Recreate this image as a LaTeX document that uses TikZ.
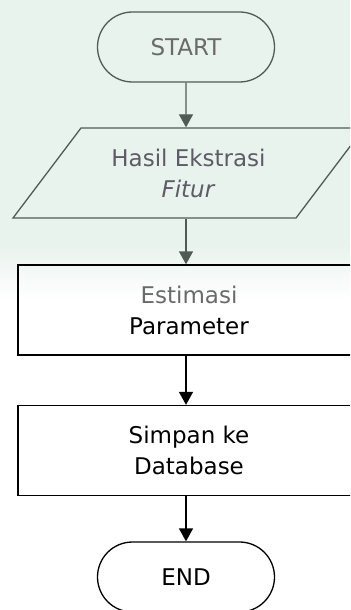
\documentclass[tikz,border=0pt]{standalone}
\usepackage{fontspec}
\setmainfont{DejaVu Sans}
\usetikzlibrary{shapes.misc,arrows.meta}

\definecolor{tint}{HTML}{E9F3EE}
\definecolor{dimline}{HTML}{4F5B54}
\definecolor{dimtext}{HTML}{5E5A66}
\definecolor{softtext}{HTML}{6A6A6A}

\tikzset{
  flow/.style={line width=1.3bp, align=center, inner sep=0pt,
    font=\fontsize{23bp}{31bp}\selectfont},
  terminal/.style={flow, draw, rounded rectangle, minimum width=177bp, minimum height=70bp},
  inout/.style={flow, minimum width=200bp, minimum height=90bp},
  process/.style={flow, draw, rectangle, minimum width=342bp, minimum height=90bp},
  arr/.style={-{Triangle[length=13bp,width=14bp]}, line width=1.3bp}
}

\begin{document}
\begin{tikzpicture}[x=1bp,y=-1bp]
\useasboundingbox (0,0) rectangle (350,610);
\clip (0,0) rectangle (350,610);

% background tint
\fill[tint] (0,0) rectangle (350,245);
\shade[top color=tint, bottom color=white] (0,245) rectangle (350,300);

\node[terminal, draw=dimline, text=softtext] (start) at (186,47) {START};
\node[inout, text=dimtext] (fitur) at (188.5,173) {Hasil Ekstrasi\\\textit{Fitur}};
\draw[dimline, line width=1.3bp] (13,218) -- (81,128) -- (364,128) -- (296,218) -- cycle;
\node[process] (estimasi) at (189,310) {\textcolor{softtext}{Estimasi}\\Parameter};
\node[process] (simpan) at (189,450.5) {Simpan ke\\Database};
\node[terminal] (end) at (186,577) {END};

\draw[arr, dimline] (start) -- (start |- fitur.north);
\draw[arr, dimline] (start |- fitur.south) -- (start |- estimasi.north);
\draw[arr] (start |- estimasi.south) -- (start |- simpan.north);
\draw[arr] (start |- simpan.south) -- (start |- end.north);
\end{tikzpicture}
\end{document}
